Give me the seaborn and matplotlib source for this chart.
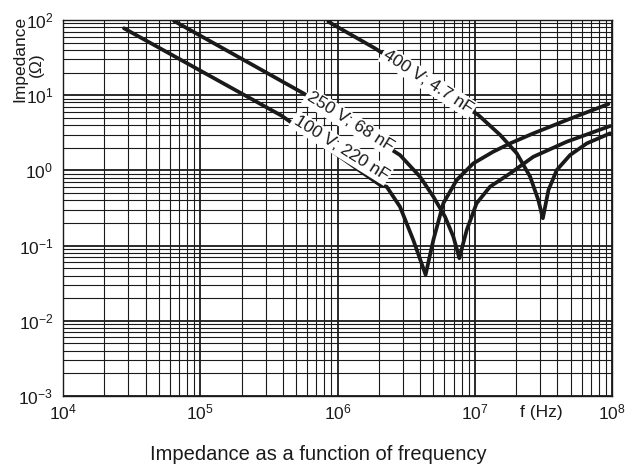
import numpy as np
import pandas as pd
import seaborn as sns
import matplotlib.pyplot as plt
from matplotlib.ticker import LogLocator, NullFormatter

# -----------------------------------
# DATA
# -----------------------------------

# 100 V; 220 nF
f_220n = [2.78e4, 3.92e5, 2.04e6, 2.28e6, 2.85e6, 3.56e6, 4.38e6,
          4.99e6, 5.90e6, 7.38e6, 9.75e6, 1.36e7, 1.81e7, 2.67e7, 4.68e7, 9.40e7]
z_220n = [77.6, 5.33, 0.64, 0.607, 0.329, 0.119, 0.041,
          0.119, 0.366, 0.745, 1.24, 1.77, 2.29, 3.11, 4.68, 7.64]

# 250 V; 68 nF
f_68n = [6.44e4, 5.64e5, 2.85e6, 3.99e6, 4.99e6, 6.07e6, 6.98e6, 7.71e6,
         8.73e6, 1.03e7, 1.29e7, 1.81e7, 2.67e7, 4.68e7, 9.66e7]
z_68n = [97.0, 10.6, 1.60, 0.824, 0.447, 0.242, 0.131, 0.068,
         0.161, 0.365, 0.607, 0.914, 1.52, 2.41, 3.89]

# 400 V; 4.7 nF
f_4n7 = [8.57e5, 1.87e6, 1.06e7, 1.53e7, 2.02e7, 2.53e7, 2.90e7, 3.13e7,
         3.44e7, 3.95e7, 4.94e7, 6.55e7, 9.66e7]
z_4n7 = [94.8, 42.1, 5.46, 2.96, 1.69, 0.824, 0.404, 0.231,
         0.548, 1.01, 1.60, 2.29, 3.11]

labels = ["100 V; 220 nF", "250 V; 68 nF", "400 V; 4.7 nF"]

df = pd.concat([
    pd.DataFrame({"f": f_220n, "Z": z_220n, "part": labels[0]}),
    pd.DataFrame({"f": f_68n, "Z": z_68n, "part": labels[1]}),
    pd.DataFrame({"f": f_4n7, "Z": z_4n7, "part": labels[2]}),
])

# -----------------------------------
# STYLE
# -----------------------------------

sns.set_theme(style="white")
plt.rcParams["font.family"] = ["Liberation Sans", "DejaVu Sans"]
plt.rcParams["mathtext.fontset"] = "custom"
plt.rcParams["mathtext.rm"] = "Liberation Sans"
plt.rcParams["mathtext.it"] = "Liberation Sans:italic"

fig = plt.figure(figsize=(6.37, 4.72), dpi=100)
ax = fig.add_axes([0.0989, 0.161, 0.862, 0.7966])

# -----------------------------------
# CURVES
# -----------------------------------

sns.lineplot(data=df, x="f", y="Z", units="part", estimator=None, sort=False,
             color="#1a1a1a", linewidth=2.7, ax=ax, zorder=3)

ax.set_xscale("log")
ax.set_yscale("log")
ax.set_xlim(1e4, 1e8)
ax.set_ylim(1e-3, 1e2)

# grid
ax.xaxis.set_major_locator(LogLocator(base=10, numticks=10))
ax.yaxis.set_major_locator(LogLocator(base=10, numticks=10))
ax.xaxis.set_minor_locator(LogLocator(base=10, subs=np.arange(2, 10), numticks=20))
ax.yaxis.set_minor_locator(LogLocator(base=10, subs=np.arange(2, 10), numticks=20))
ax.xaxis.set_minor_formatter(NullFormatter())
ax.yaxis.set_minor_formatter(NullFormatter())
ax.grid(which="major", color="#1a1a1a", linewidth=1.3)
ax.grid(which="minor", color="#1a1a1a", linewidth=0.8)
ax.set_axisbelow(True)

for s in ax.spines.values():
    s.set_color("#1a1a1a")
    s.set_linewidth(1.0)

ax.tick_params(which="both", length=0, labelsize=12.5, colors="#1a1a1a")
ax.tick_params(axis="x", pad=5)
ax.tick_params(axis="y", pad=7)
ax.set_xlabel("")
ax.set_ylabel("")

# curve labels on white boxes
box = dict(facecolor="white", edgecolor="none", pad=1.5)
ax.text(4.56e6, 15.0, labels[2], rotation=-33, ha="center", va="center",
        fontsize=12.5, color="#1a1a1a", bbox=box, zorder=4)
ax.text(1.23e6, 4.4, labels[1], rotation=-32, ha="center", va="center",
        fontsize=12.5, color="#1a1a1a", bbox=box, zorder=4)
ax.text(1.06e6, 1.99, labels[0], rotation=-32, ha="center", va="center",
        fontsize=12.5, color="#1a1a1a", bbox=box, zorder=4)

# axis texts
fig.text(20 / 637, 1 - 59 / 472, "Impedance", rotation=90, ha="center",
         va="center", fontsize=12.5, color="#1a1a1a")
fig.text(36 / 637, 1 - 65 / 472, "(Ω)", rotation=90, ha="center",
         va="center", fontsize=12.5, color="#1a1a1a")
fig.text(541 / 637, 1 - 412 / 472, "f (Hz)", ha="center", va="center",
         fontsize=12.5, color="#1a1a1a")
fig.text(0.5, 1 - 455 / 472, "Impedance as a function of frequency",
         ha="center", va="center", fontsize=14.5, color="#1a1a1a")

plt.savefig("out.png", dpi=100)
